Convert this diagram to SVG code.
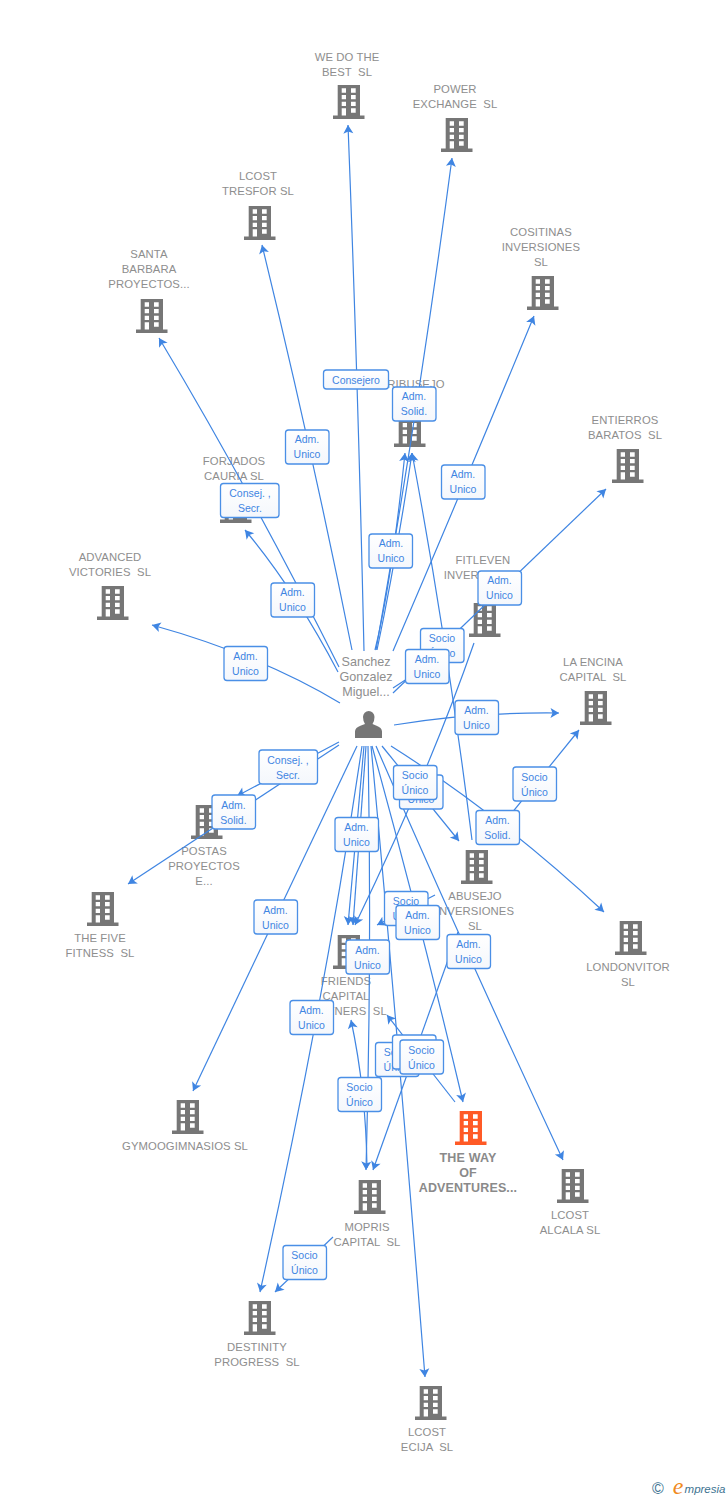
<svg xmlns="http://www.w3.org/2000/svg" width="728" height="1500" viewBox="0 0 728 1500">
<style>
text{font-family:"Liberation Sans",Arial,sans-serif;text-anchor:middle;white-space:pre}
.n{font-size:11.3px;fill:#8e8e8e;letter-spacing:.1px}
.p{font-size:12.6px;fill:#8e8e8e}
.h{font-size:12.5px;font-weight:bold;fill:#8a8a8a;letter-spacing:.15px}
.i{fill:#767676}
.o{fill:#ff5a26}
.c path{fill:none;stroke:#3f85e2;stroke-width:1.2;marker-end:url(#a)}
.l rect{fill:url(#g);stroke:#4a8fe6;stroke-width:1.3}
.l text{font-size:10.5px;fill:#3f85e2}
</style>
<defs>
<linearGradient id="g" x1="0" y1="0" x2="0" y2="1"><stop offset="0" stop-color="#fff"/><stop offset="1" stop-color="#f4f7fc"/></linearGradient>
<marker id="a" markerUnits="userSpaceOnUse" markerWidth="12" markerHeight="12" refX="10" refY="6" orient="auto"><path d="M1.5 1L10 6L1.5 11L3.5 6Z" fill="#3f85e2"/></marker>
<symbol id="b" viewBox="0 0 32 34" width="32" height="34" overflow="visible"><path fill-rule="evenodd" d="M4.700 0H27V30.500H31.500V34H0V30.500H4.700ZM8.700 3.300V7.700H13V3.300ZM18 3.300V7.700H22.700V3.300ZM8.700 10V14.300H13V10ZM18 10V14.300H22.700V10ZM8.700 16.700V21H13V16.700ZM18 16.700V21H22.700V16.700ZM8.700 23.300V30.500H13V23.300ZM18 23.300V27.700H22.700V23.300Z"/></symbol>
</defs>

<g id="node-wedothe"><use href="#b" class="i" x="333" y="85"/><text class="n" x="347" y="61">WE DO THE</text><text class="n" x="347" y="76">BEST  SL</text></g>
<g id="node-power"><use href="#b" class="i" x="441" y="118"/><text class="n" x="455" y="93">POWER</text><text class="n" x="455" y="108">EXCHANGE  SL</text></g>
<g id="node-tresfor"><use href="#b" class="i" x="244" y="206"/><text class="n" x="258" y="180">LCOST</text><text class="n" x="258" y="195">TRESFOR SL</text></g>
<g id="node-cositinas"><use href="#b" class="i" x="527" y="276"/><text class="n" x="541" y="236">COSITINAS</text><text class="n" x="541" y="251">INVERSIONES</text><text class="n" x="541" y="266">SL</text></g>
<g id="node-santa"><use href="#b" class="i" x="136" y="299"/><text class="n" x="149" y="258">SANTA</text><text class="n" x="149" y="273">BARBARA</text><text class="n" x="149" y="288">PROYECTOS...</text></g>
<g id="node-ribusejo"><use href="#b" class="i" x="394" y="413"/><text class="n" x="416" y="388">RIBUSEJO</text></g>
<g id="node-entierros"><use href="#b" class="i" x="612" y="449"/><text class="n" x="625" y="424">ENTIERROS</text><text class="n" x="625" y="439">BARATOS  SL</text></g>
<g id="node-forjados"><use href="#b" class="i" x="220" y="489"/><text class="n" x="234" y="465">FORJADOS</text><text class="n" x="234" y="480">CAURIA SL</text></g>
<g id="node-advanced"><use href="#b" class="i" x="97" y="586"/><text class="n" x="110" y="561">ADVANCED</text><text class="n" x="110" y="576">VICTORIES  SL</text></g>
<g id="node-fitleven"><use href="#b" class="i" x="469" y="603"/><text class="n" x="483" y="564">FITLEVEN</text><text class="n" x="483" y="579">INVERSIONES</text></g>
<g id="node-encina"><use href="#b" class="i" x="580" y="691"/><text class="n" x="593" y="666">LA ENCINA</text><text class="n" x="593" y="681">CAPITAL  SL</text></g>
<g id="node-person"><path class="i" d="M355 738V731.500Q355 727.500 361 725.500L365 724Q363 721 363 717A5.700 6 0 0 1 374.500 717Q374.500 721 372.500 724L376 725.500Q382 727.500 382 731.500V738Z"/><text class="p" x="366" y="666">Sanchez</text><text class="p" x="366" y="681">Gonzalez</text><text class="p" x="366" y="696">Miguel...</text></g>
<g id="node-postas"><use href="#b" class="i" x="191" y="805"/><text class="n" x="204" y="855">POSTAS</text><text class="n" x="204" y="870">PROYECTOS</text><text class="n" x="204" y="885">E...</text></g>
<g id="node-thefive"><use href="#b" class="i" x="87" y="892"/><text class="n" x="100" y="942">THE FIVE</text><text class="n" x="100" y="957">FITNESS  SL</text></g>
<g id="node-abusejo"><use href="#b" class="i" x="461" y="850"/><text class="n" x="475" y="900">ABUSEJO</text><text class="n" x="475" y="915">INVERSIONES</text><text class="n" x="475" y="930">SL</text></g>
<g id="node-londonvitor"><use href="#b" class="i" x="615" y="921"/><text class="n" x="628" y="971">LONDONVITOR</text><text class="n" x="628" y="986">SL</text></g>
<g id="node-friends"><use href="#b" class="i" x="333" y="935"/><text class="n" x="346" y="985">FRIENDS</text><text class="n" x="346" y="1000">CAPITAL</text><text class="n" x="346" y="1015">PARTNERS  SL</text></g>
<g id="node-gymoo"><use href="#b" class="i" x="172" y="1100"/><text class="n" x="185" y="1150">GYMOOGIMNASIOS SL</text></g>
<g id="node-theway"><use href="#b" class="o" x="455" y="1111"/><text class="h" x="468" y="1162">THE WAY</text><text class="h" x="468" y="1177">OF</text><text class="h" x="468" y="1192">ADVENTURES...</text></g>
<g id="node-mopris"><use href="#b" class="i" x="354" y="1180"/><text class="n" x="367" y="1231">MOPRIS</text><text class="n" x="367" y="1246">CAPITAL  SL</text></g>
<g id="node-alcala"><use href="#b" class="i" x="557" y="1169"/><text class="n" x="570" y="1219">LCOST</text><text class="n" x="570" y="1234">ALCALA SL</text></g>
<g id="node-destinity"><use href="#b" class="i" x="244" y="1301"/><text class="n" x="257" y="1351">DESTINITY</text><text class="n" x="257" y="1366">PROGRESS  SL</text></g>
<g id="node-ecija"><use href="#b" class="i" x="415" y="1386"/><text class="n" x="427" y="1436">LCOST</text><text class="n" x="427" y="1451">ECIJA  SL</text></g>

<g id="connectors" class="c">
<path d="M364 651Q358 380 348 125"/>
<path d="M376 650Q420 400 452 158"/>
<path d="M352 650Q312 450 262 245"/>
<path d="M393 651Q460 495 534 316"/>
<path d="M339 667Q250 490 159 338"/>
<path d="M338 672Q295 590 245 530"/>
<path d="M340 703Q260 655 152 625"/>
<path d="M375 650Q392 580 405 453"/>
<path d="M377 650Q396 560 412 453"/>
<path d="M472 840Q447 640 412 453"/>
<path d="M393 688L462 643"/>
<path d="M393 693L606 489"/>
<path d="M474 643Q430 770 355 925"/>
<path d="M394 725Q470 712 559 713"/>
<path d="M490 840L579 730"/>
<path d="M382 746L459 841"/>
<path d="M391 746Q500 815 604 912"/>
<path d="M339 742L237 796"/>
<path d="M339 745L128 884"/>
<path d="M357 746L193 1091"/>
<path d="M362 746Q325 1000 260 1292"/>
<path d="M364 746L348 925"/>
<path d="M366 746L353 925"/>
<path d="M368 746Q372 950 366 1170"/>
<path d="M371 746Q395 1000 425 1377"/>
<path d="M372 746Q420 920 463 1102"/>
<path d="M376 746Q460 940 563 1160"/>
<path d="M455 1102L387 1015"/>
<path d="M458 932L373 1170"/>
<path d="M367 1168Q366 1090 351 1020"/>
<path d="M435 895L377 925"/>
<path d="M333 1237L275 1292"/>
</g>

<g id="labels" class="l">
<g><rect x="323.500" y="370" width="65" height="19" rx="3"/><text x="356" y="383.500">Consejero</text></g>
<g><rect x="392.500" y="387" width="43.500" height="34" rx="3"/><text x="414" y="400">Adm.</text><text x="414" y="415">Solid.</text></g>
<g><rect x="285.500" y="430" width="43.500" height="34" rx="3"/><text x="307" y="443">Adm.</text><text x="307" y="458">Unico</text></g>
<g><rect x="441.500" y="465" width="43.500" height="34" rx="3"/><text x="463" y="478">Adm.</text><text x="463" y="493">Unico</text></g>
<g><rect x="220.500" y="483.500" width="58.500" height="34" rx="3"/><text x="250" y="497">Consej. ,</text><text x="250" y="512">Secr.</text></g>
<g><rect x="369" y="534" width="43.500" height="34" rx="3"/><text x="391" y="547">Adm.</text><text x="391" y="562">Unico</text></g>
<g><rect x="478" y="571" width="43.500" height="34" rx="3"/><text x="499.500" y="584">Adm.</text><text x="499.500" y="599">Unico</text></g>
<g><rect x="271" y="583" width="43.500" height="34" rx="3"/><text x="292.500" y="596">Adm.</text><text x="292.500" y="611">Unico</text></g>
<g><rect x="420.500" y="628.500" width="43.500" height="34" rx="3"/><text x="442" y="642">Socio</text><text x="442" y="657">Único</text></g>
<g><rect x="405.500" y="649.500" width="43.500" height="34" rx="3"/><text x="427" y="663">Adm.</text><text x="427" y="678">Unico</text></g>
<g><rect x="224" y="646.500" width="43.500" height="34" rx="3"/><text x="245.500" y="660">Adm.</text><text x="245.500" y="675">Unico</text></g>
<g><rect x="455" y="700.500" width="43.500" height="34" rx="3"/><text x="476.500" y="714">Adm.</text><text x="476.500" y="729">Unico</text></g>
<g><rect x="259" y="750" width="58.500" height="34" rx="3"/><text x="288" y="763.500">Consej. ,</text><text x="288" y="778.500">Secr.</text></g>
<g><rect x="212" y="795" width="43.500" height="34" rx="3"/><text x="233.500" y="808.500">Adm.</text><text x="233.500" y="823.500">Solid.</text></g>
<g><rect x="513" y="767" width="43.500" height="34" rx="3"/><text x="534.500" y="780.500">Socio</text><text x="534.500" y="795.500">Único</text></g>
<g><rect x="399.500" y="775" width="43.500" height="34" rx="3"/><text x="421" y="788.500">Adm.</text><text x="421" y="803">Unico</text></g>
<g><rect x="393.500" y="765.500" width="43.500" height="34" rx="3"/><text x="415" y="779">Socio</text><text x="415" y="794">Único</text></g>
<g><rect x="476" y="810.500" width="43.500" height="34" rx="3"/><text x="497.500" y="824">Adm.</text><text x="497.500" y="839">Solid.</text></g>
<g><rect x="335" y="817.500" width="43.500" height="34" rx="3"/><text x="356.500" y="831">Adm.</text><text x="356.500" y="846">Unico</text></g>
<g><rect x="254" y="900" width="43.500" height="34" rx="3"/><text x="275.500" y="913.500">Adm.</text><text x="275.500" y="928.500">Unico</text></g>
<g><rect x="384.500" y="891.500" width="43.500" height="34" rx="3"/><text x="406" y="905">Socio</text><text x="406" y="920">Único</text></g>
<g><rect x="396" y="905.500" width="43.500" height="34" rx="3"/><text x="417.500" y="919">Adm.</text><text x="417.500" y="934">Unico</text></g>
<g><rect x="346" y="940" width="43.500" height="34" rx="3"/><text x="367.500" y="953.500">Adm.</text><text x="367.500" y="968.500">Unico</text></g>
<g><rect x="447" y="934.500" width="43.500" height="34" rx="3"/><text x="468.500" y="948">Adm.</text><text x="468.500" y="963">Unico</text></g>
<g><rect x="290" y="1000.500" width="43.500" height="34" rx="3"/><text x="311.500" y="1014">Adm.</text><text x="311.500" y="1029">Unico</text></g>
<g><rect x="375.500" y="1042.500" width="43.500" height="34" rx="3"/><text x="397" y="1056">Socio</text><text x="397" y="1071">Único</text></g>
<g><rect x="392.500" y="1035" width="43.500" height="34" rx="3"/><text x="414" y="1048.500">Socio</text><text x="414" y="1063.500">Único</text></g>
<g><rect x="400" y="1040" width="43.500" height="34" rx="3"/><text x="421.500" y="1053.500">Socio</text><text x="421.500" y="1068.500">Único</text></g>
<g><rect x="338" y="1077.500" width="43.500" height="34" rx="3"/><text x="359.500" y="1091">Socio</text><text x="359.500" y="1106">Único</text></g>
<g><rect x="283" y="1245.500" width="43.500" height="34" rx="3"/><text x="304.500" y="1259">Socio</text><text x="304.500" y="1274">Único</text></g>
</g>

<g id="logo">
<text x="658" y="1494" style="font-size:16px;fill:#3d7391">©</text>
<text x="678" y="1494" style="font-family:'Liberation Serif',serif;font-style:italic;font-size:24px;fill:#f08a1d">e</text>
<text x="705" y="1493" style="font-style:italic;font-size:11.500px;fill:#3d7391">mpresia</text>
</g>
</svg>
